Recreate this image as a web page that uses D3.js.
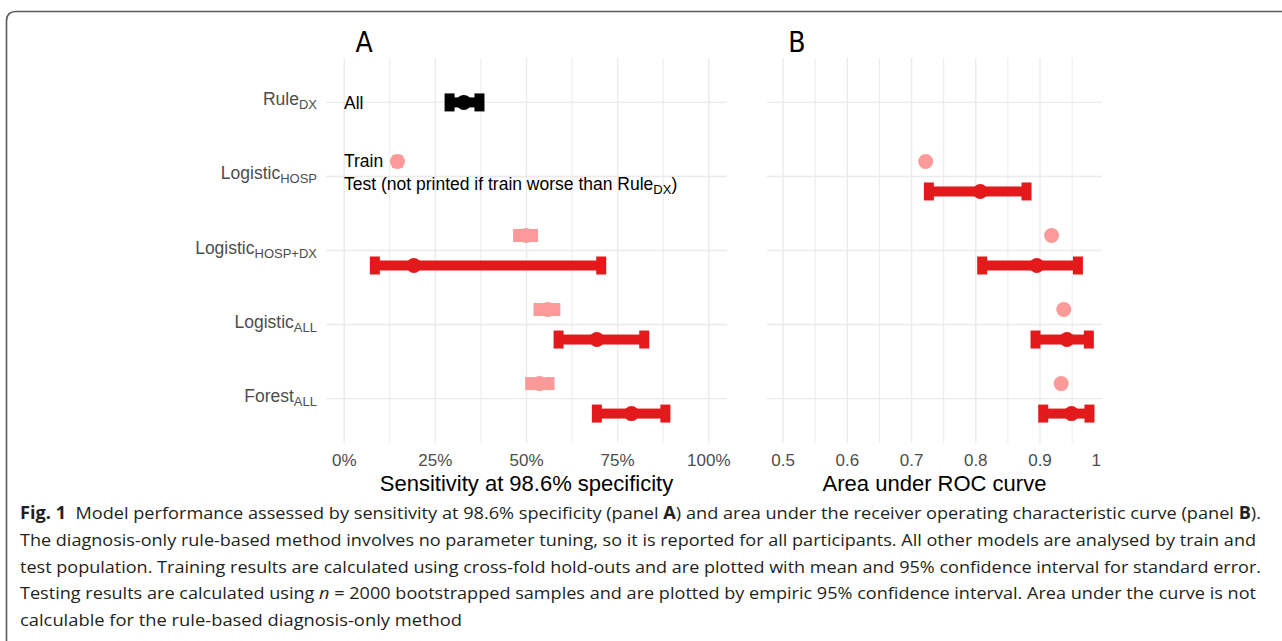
<!DOCTYPE html>
<html>
<head>
<meta charset="utf-8">
<script src="https://cdn.jsdelivr.net/npm/d3@7"></script>
<style>
  html, body { margin: 0; padding: 0; background: #fff; }
  svg { display: block; }
</style>
</head>
<body>
<div id="chart-container"></div>
<script>
// Models (rows), name + subscript
const modelNames = ["Rule", "Logistic", "Logistic", "Logistic", "Forest"];
const modelSubs = ["DX", "HOSP", "HOSP+DX", "ALL", "ALL"];
const modelKeys = modelNames.map((d, i) => `${d}_${modelSubs[i]}`);

// Panel A: sensitivity at 98.6% specificity
const ruleAll = { lo: 0.289, mean: 0.328, hi: 0.371 };
const sensTrainLo = [null, 0.146, 0.477, 0.533, 0.510];
const sensTrainMean = [null, 0.146, 0.499, 0.558, 0.536];
const sensTrainHi = [null, 0.146, 0.518, 0.579, 0.563];
const sensTestLo = [null, null, 0.084, 0.588, 0.693];
const sensTestMean = [null, null, 0.191, 0.693, 0.788];
const sensTestHi = [null, null, 0.705, 0.823, 0.881];

// Panel B: area under ROC curve
const aucTrainMean = [null, 0.722, 0.918, 0.937, 0.933];
const aucTestLo = [null, 0.727, 0.810, 0.893, 0.905];
const aucTestMean = [null, 0.807, 0.895, 0.942, 0.949];
const aucTestHi = [null, 0.879, 0.959, 0.976, 0.977];

// Tick labels
const sensTicks = [0, 0.25, 0.5, 0.75, 1];
const sensTickLabels = ["0%", "25%", "50%", "75%", "100%"];
const aucTicks = [0.5, 0.6, 0.7, 0.8, 0.9, 1];
const aucTickLabels = ["0.5", "0.6", "0.7", "0.8", "0.9", "1"];

// Caption lines
const captionLines = [
    [["Fig. 1", "bold"], ["  Model performance assessed by sensitivity at 98.6% specificity (panel ", ""], ["A", "bold"], [") and area under the receiver operating characteristic curve (panel ", ""], ["B", "bold"], [").", ""]],
    [["The diagnosis-only rule-based method involves no parameter tuning, so it is reported for all participants. All other models are analysed by train and", ""]],
    [["test population. Training results are calculated using cross-fold hold-outs and are plotted with mean and 95% confidence interval for standard error.", ""]],
    [["Testing results are calculated using ", ""], ["n", "italic"], [" = 2000 bootstrapped samples and are plotted by empiric 95% confidence interval. Area under the curve is not", ""]],
    [["calculable for the rule-based diagnosis-only method", ""]]
];
const captionWidths = [1241, 1236, 1241, 1236, 442];

const width = 1282;
const height = 641;
const trainColor = "#fb9a99";
const testColor = "#e31a1c";
const gridColor = "#ebebeb";
const labelFont = "'Liberation Sans', Arial, sans-serif";

const svg = d3.select("#chart-container")
    .append("svg")
    .attr("width", width)
    .attr("height", height);

// figure frame (rounded corner top-left)
svg.append("path")
    .attr("d", "M6.5,641 L6.5,21 Q6.5,11.5 16,11.5 L1282,11.5")
    .attr("fill", "none")
    .attr("stroke", "#5a5a5a")
    .attr("stroke-width", 1.6);

// shared y scale (discrete rows)
const y = d3.scalePoint()
    .domain(modelKeys)
    .range([58, 443])
    .padding(0.6);
const dodge = 15;

/**
 * Draw one panel: grid, axis and intervals
 */
const drawPanel = ({ x, ticks, tickLabels, minor, title, titleX, axisTitle }) => {
    const [x0, x1] = x.range();
    const g = svg.append("g");

    // minor vertical grid
    g.append("g").selectAll("line")
        .data(minor)
        .join("line")
        .attr("x1", d => x(d)).attr("x2", d => x(d))
        .attr("y1", 58).attr("y2", 443)
        .attr("stroke", gridColor).attr("stroke-width", 1);

    // major vertical grid
    g.append("g").selectAll("line")
        .data(ticks.filter(d => x(d) <= x1))
        .join("line")
        .attr("x1", d => x(d)).attr("x2", d => x(d))
        .attr("y1", 58).attr("y2", 443)
        .attr("stroke", gridColor).attr("stroke-width", 1.4);

    // horizontal grid
    g.append("g").selectAll("line")
        .data(modelKeys)
        .join("line")
        .attr("x1", x0).attr("x2", x1)
        .attr("y1", d => y(d)).attr("y2", d => y(d))
        .attr("stroke", gridColor).attr("stroke-width", 1.4);

    // x tick labels
    g.append("g")
        .attr("font-family", labelFont)
        .attr("font-size", 17)
        .attr("fill", "#4d4d4d")
        .selectAll("text")
        .data(ticks)
        .join("text")
        .attr("x", d => Math.min(x(d), x1 - 1))
        .attr("y", 466)
        .attr("text-anchor", d => x(d) > x1 ? "end" : "middle")
        .text((d, i) => tickLabels[i]);

    // axis title
    g.append("text")
        .attr("x", (x0 + x1) / 2)
        .attr("y", 491)
        .attr("text-anchor", "middle")
        .attr("font-family", labelFont)
        .attr("font-size", 22)
        .attr("fill", "#000")
        .text(axisTitle);

    // panel letter
    g.append("text")
        .attr("x", titleX)
        .attr("y", 52)
        .attr("text-anchor", "middle")
        .attr("font-family", "'Liberation Sans Narrow', 'DejaVu Sans Condensed', 'Arial Narrow', sans-serif")
        .attr("font-size", 28)
        .attr("fill", "#000")
        .text(title);

    return g;
};

/**
 * Draw an interval with caps and a center point
 */
const drawInterval = (g, x, yPos, lo, mean, hi, color, capH, barH) => {
    const capW = 10;
    g.append("rect")
        .attr("x", x(lo)).attr("y", yPos - barH / 2)
        .attr("width", Math.max(0, x(hi) - x(lo))).attr("height", barH)
        .attr("fill", color);
    g.selectAll(null)
        .data([lo, hi])
        .join("rect")
        .attr("x", d => x(d) - capW / 2).attr("y", yPos - capH / 2)
        .attr("width", capW).attr("height", capH)
        .attr("fill", color);
    g.append("circle")
        .attr("cx", x(mean)).attr("cy", yPos)
        .attr("r", 7.5)
        .attr("fill", color);
};

// Panel A
const xA = d3.scaleLinear().domain([-0.05, 1.05]).range([326, 727]);
const gA = drawPanel({
    x: xA,
    ticks: sensTicks,
    tickLabels: sensTickLabels,
    minor: [0.125, 0.375, 0.625, 0.875],
    title: "A",
    titleX: 364,
    axisTitle: "Sensitivity at 98.6% specificity"
});

drawInterval(gA, xA, y(modelKeys[0]), ruleAll.lo, ruleAll.mean, ruleAll.hi, "#000", 18, 10);
modelKeys.forEach((k, i) => {
    if (sensTrainMean[i] !== null) {
        drawInterval(gA, xA, y(k) - dodge, sensTrainLo[i], sensTrainMean[i], sensTrainHi[i], trainColor, 13, 8);
    }
    if (sensTestMean[i] !== null) {
        drawInterval(gA, xA, y(k) + dodge, sensTestLo[i], sensTestMean[i], sensTestHi[i], testColor, 18, 10);
    }
});

// Panel A annotations
const notes = gA.append("g")
    .attr("font-family", labelFont)
    .attr("font-size", 17.5)
    .attr("fill", "#000");
notes.append("text").attr("x", 344).attr("y", y(modelKeys[0]) + 7).text("All");
notes.append("text").attr("x", 344).attr("y", y(modelKeys[1]) - dodge + 6).text("Train");
const testNote = notes.append("text").attr("x", 344).attr("y", y(modelKeys[1]) + dodge - 1);
testNote.append("tspan").text("Test (not printed if train worse than Rule");
testNote.append("tspan").attr("font-size", 13).attr("dy", 4).text("DX");
testNote.append("tspan").attr("dy", -4).text(")");

// Panel B
const xB = d3.scaleLinear().domain([0.475, 0.9965]).range([767, 1102]);
const gB = drawPanel({
    x: xB,
    ticks: aucTicks,
    tickLabels: aucTickLabels,
    minor: [0.55, 0.65, 0.75, 0.85, 0.95],
    title: "B",
    titleX: 797,
    axisTitle: "Area under ROC curve"
});

modelKeys.forEach((k, i) => {
    if (aucTrainMean[i] !== null) {
        gB.append("circle")
            .attr("cx", xB(aucTrainMean[i])).attr("cy", y(k) - dodge)
            .attr("r", 7.5)
            .attr("fill", trainColor);
    }
    if (aucTestMean[i] !== null) {
        drawInterval(gB, xB, y(k) + dodge, aucTestLo[i], aucTestMean[i], aucTestHi[i], testColor, 18, 10);
    }
});

// y axis labels with subscripts
const yLabels = svg.append("g")
    .attr("font-family", labelFont)
    .attr("font-size", 17.5)
    .attr("fill", "#4d4d4d")
    .attr("text-anchor", "end")
    .selectAll("text")
    .data(modelKeys)
    .join("text")
    .attr("x", 317)
    .attr("y", d => y(d) + 3);
yLabels.append("tspan").text((d, i) => modelNames[i]);
yLabels.append("tspan").attr("font-size", 13).attr("dy", 4).text((d, i) => modelSubs[i]);

// caption
const caption = svg.append("g")
    .attr("font-family", "'Open Sans', 'Noto Sans', sans-serif")
    .attr("font-size", 17)
    .attr("fill", "#231f20");
captionLines.forEach((parts, i) => {
    const t = caption.append("text")
        .attr("x", 20)
        .attr("y", 519 + i * 26.8)
        .attr("textLength", captionWidths[i])
        .attr("lengthAdjust", "spacingAndGlyphs")
        .attr("xml:space", "preserve");
    parts.forEach(([txt, style]) => {
        const s = t.append("tspan").text(txt);
        if (style === "bold") s.attr("font-weight", "bold");
        if (style === "italic") s.attr("font-style", "italic");
    });
});
</script>
</body>
</html>
